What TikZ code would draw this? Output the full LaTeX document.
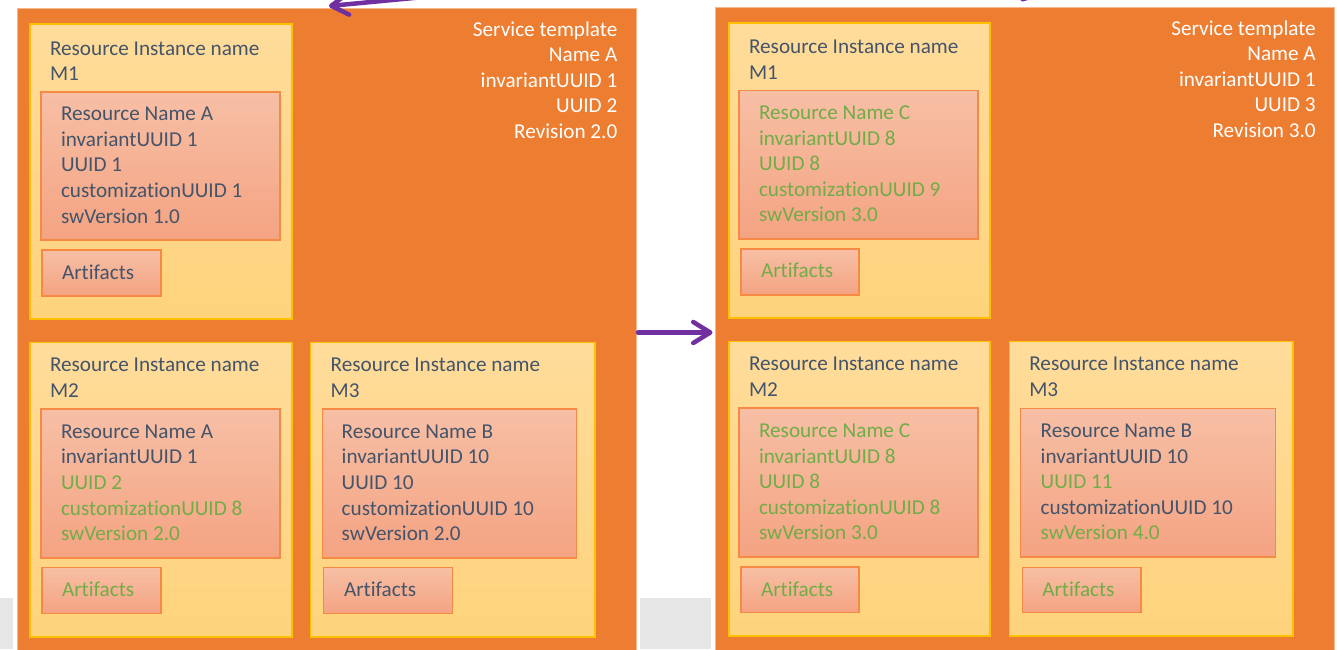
\documentclass[tikz,border=0pt]{standalone}
\usepackage{fontspec}
\setmainfont{Carlito}[RawFeature={-liga}]
\usetikzlibrary{arrows.meta}

\definecolor{panelOrange}{HTML}{ED7D31}
\definecolor{panelEdge}{HTML}{F5B88E}
\definecolor{instEdge}{HTML}{FFC000}
\definecolor{instTop}{HTML}{FFDC9B}
\definecolor{instBot}{HTML}{FED37C}
\definecolor{resEdge}{HTML}{F68A45}
\definecolor{resTop}{HTML}{F7BFA5}
\definecolor{resBot}{HTML}{F4A382}
\definecolor{ink}{HTML}{44546A}
\definecolor{grn}{HTML}{70AD47}
\definecolor{wht}{HTML}{FFFFFF}
\definecolor{patchGrey}{HTML}{E6E6E6}
\definecolor{violet}{HTML}{7030A0}

\tikzset{
  panel/.style={draw=panelEdge, line width=1pt, fill=panelOrange,
    inner sep=0, outer sep=0, anchor=north west},
  inst/.style={draw=instEdge, line width=1.3pt, top color=instTop,
    bottom color=instBot, inner sep=0, outer sep=0, anchor=north west},
  res/.style={draw=resEdge, line width=1.2pt, top color=resTop,
    bottom color=resBot, inner sep=0, outer sep=0, anchor=north west},
  txt/.style={font=\fontsize{21.2}{25.6}\selectfont, inner sep=0,
    outer sep=0, anchor=base west},
  rtxt/.style={txt, anchor=base east, text=wht},
  parr/.style={draw=violet, line width=4.5pt, line cap=round,
    -{Straight Barb[length=17pt, width=21pt, round]}},
}

% one text node per line, 25.6 units apart: prefix, x, first baseline, list
\newcommand\txtlines[4]{%
  \foreach \c/\t [count=\i] in {#4} {%
    \node[txt, text=\c] (#1\i) at (#2, {#3+(\i-1)*25.6}) {\t};}}
% right-aligned lines (service template header)
\newcommand\rtxtlines[4]{%
  \foreach \t [count=\i] in {#4} {%
    \node[rtxt] (#1\i) at (#2, {#3+(\i-1)*25.6}) {\t};}}

\begin{document}
\begin{tikzpicture}[x=1pt, y=-1pt]
\useasboundingbox (0,0) rectangle (1337,649);
\clip (0,0) rectangle (1337,649);

% grey background patches
\fill[patchGrey] (0,598) rectangle (12.7,649);
\fill[patchGrey] (640,598) rectangle (711,649);

% ---------------- left service template ----------------
\node[panel, minimum width=619, minimum height=648] (pL) at (17,8.5) {};
\rtxtlines{stL}{617.3}{36}{Service template, Name A, invariantUUID 1, UUID 2, Revision 2.0}

% M1
\node[inst, minimum width=262, minimum height=295] (iL1) at (30,24) {};
\node[res, minimum width=239, minimum height=148] (rL1) at (41,92) {};
\node[res, minimum width=119, minimum height=46] (aL1) at (42,250) {};
\txtlines{tiL1}{50}{55}{ink/Resource Instance name, ink/M1}
\txtlines{trL1}{61}{120.7}{ink/Resource Name A, ink/invariantUUID 1, ink/UUID 1, ink/customizationUUID 1, ink/swVersion 1.0}
\txtlines{taL1}{62}{279}{ink/Artifacts}

% M2
\node[inst, minimum width=262, minimum height=294.7] (iL2) at (30,342.3) {};
\node[res, minimum width=239, minimum height=149] (rL2) at (41,409) {};
\node[res, minimum width=119, minimum height=46] (aL2) at (42,567.3) {};
\txtlines{tiL2}{50}{371.7}{ink/Resource Instance name, ink/M2}
\txtlines{trL2}{61}{438.3}{ink/Resource Name A, ink/invariantUUID 1, grn/UUID 2, grn/customizationUUID 8, grn/swVersion 2.0}
\txtlines{taL2}{62}{596.7}{grn/Artifacts}

% M3
\node[inst, minimum width=284.5, minimum height=294.7] (iL3) at (310.5,342.3) {};
\node[res, minimum width=254.4, minimum height=149] (rL3) at (322.3,409) {};
\node[res, minimum width=129, minimum height=46] (aL3) at (323.3,567.8) {};
\txtlines{tiL3}{330.7}{371.7}{ink/Resource Instance name, ink/M3}
\txtlines{trL3}{341.7}{438.3}{ink/Resource Name B, ink/invariantUUID 10, ink/UUID 10, ink/customizationUUID 10, ink/swVersion 2.0}
\txtlines{taL3}{344}{596.7}{ink/Artifacts}

% ---------------- right service template ----------------
\node[panel, minimum width=619, minimum height=648] (pR) at (715.5,7.5) {};
\rtxtlines{stR}{1315.7}{35}{Service template, Name A, invariantUUID 1, UUID 3, Revision 3.0}

% M1
\node[inst, minimum width=261, minimum height=295] (iR1) at (729,23) {};
\node[res, minimum width=239, minimum height=148.5] (rR1) at (739,90.5) {};
\node[res, minimum width=118, minimum height=46] (aR1) at (741,249) {};
\txtlines{tiR1}{749}{53.7}{ink/Resource Instance name, ink/M1}
\txtlines{trR1}{759}{119.4}{grn/Resource Name C, grn/invariantUUID 8, grn/UUID 8, grn/customizationUUID 9, grn/swVersion 3.0}
\txtlines{taR1}{761}{277.7}{grn/Artifacts}

% M2
\node[inst, minimum width=261, minimum height=294.3] (iR2) at (729,341.7) {};
\node[res, minimum width=239, minimum height=149] (rR2) at (739,408) {};
\node[res, minimum width=118, minimum height=45.5] (aR2) at (741,567) {};
\txtlines{tiR2}{749}{370.7}{ink/Resource Instance name, ink/M2}
\txtlines{trR2}{759}{437.5}{grn/Resource Name C, grn/invariantUUID 8, grn/UUID 8, grn/customizationUUID 8, grn/swVersion 3.0}
\txtlines{taR2}{761}{596}{grn/Artifacts}

% M3
\node[inst, minimum width=283.7, minimum height=294.3] (iR3) at (1009.3,341.7) {};
\node[res, minimum width=254.6, minimum height=148.7] (rR3) at (1020.7,408.3) {};
\node[res, minimum width=118.7, minimum height=45.3] (aR3) at (1022.3,567.3) {};
\txtlines{tiR3}{1029.3}{370.7}{ink/Resource Instance name, ink/M3}
\txtlines{trR3}{1040.7}{437.5}{ink/Resource Name B, ink/invariantUUID 10, grn/UUID 11, ink/customizationUUID 10, grn/swVersion 4.0}
\txtlines{taR3}{1042.3}{596}{grn/Artifacts}

% ---------------- connectors ----------------
\draw[parr, shorten <=2pt, shorten >=3pt] (pL.east) -- (pL.east -| pR.west);

\coordinate (srcL) at (540,-14);
\coordinate (tipL) at (329,6);
\draw[parr] (srcL) -- (tipL);

\coordinate (srcR) at (1075,-60);
\coordinate (tipR) at (1021,1);
\draw[parr] (srcR) -- (tipR);
\end{tikzpicture}
\end{document}
